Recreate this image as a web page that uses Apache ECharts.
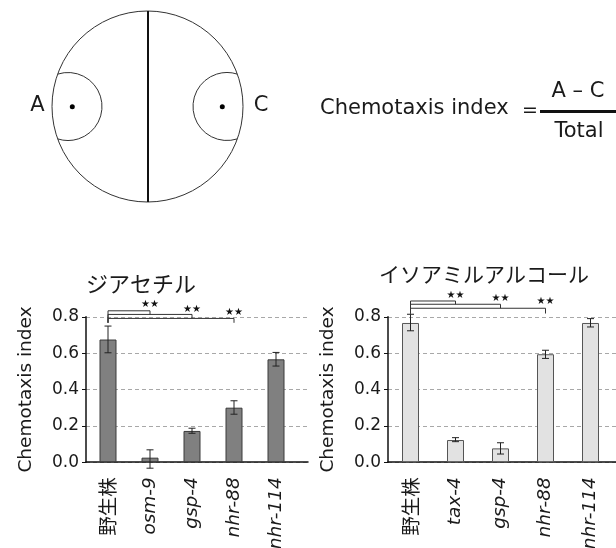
<!DOCTYPE html>
<html><head><meta charset="utf-8">
<script src="https://cdn.jsdelivr.net/npm/echarts@6/dist/echarts.min.js"></script>
<style>html,body{margin:0;padding:0;background:#fff}#c{width:616px;height:548px}</style>
</head><body><div id="c"></div>
<script>
// ---------- data ----------
const categoriesL = ['野生株', 'osm-9', 'gsp-4', 'nhr-88', 'nhr-114'];
const valuesL   = [0.675, 0.025, 0.172, 0.300, 0.566];
const errLowL   = [0.602, -0.033, 0.159, 0.264, 0.529];
const errHighL  = [0.749, 0.068, 0.187, 0.338, 0.604];
const titleL = 'ジアセチル';

const categoriesR = ['野生株', 'tax-4', 'gsp-4', 'nhr-88', 'nhr-114'];
const valuesR   = [0.766, 0.122, 0.076, 0.594, 0.766];
const errLowR   = [0.723, 0.113, 0.045, 0.571, 0.744];
const errHighR  = [0.814, 0.135, 0.107, 0.616, 0.790];
const titleR = 'イソアミルアルコール';

const sigTargets = [1, 2, 3];      // each compared with 野生株 (index 0)
const sigLabel = '★★';
const yTickLabels = ['0.0', '0.2', '0.4', '0.6', '0.8'];
const yAxisName = 'Chemotaxis index';
const formulaName = 'Chemotaxis index';
const formulaNum = 'A – C';
const formulaDen = 'Total';

// ---------- annotation layout (value units) ----------
const bracketL = {levels: [0.833, 0.813, 0.791], drops: [0.813, 0.791, 0.767], stars: [0.870, 0.840, 0.824], bottom: 0.767};
const bracketR = {levels: [0.887, 0.869, 0.847], drops: [0.869, 0.847, 0.818], stars: [0.919, 0.901, 0.887], bottom: 0.818};

const LAT = '"DejaVu Sans", sans-serif';
const CJK = '"Noto Sans CJK JP", sans-serif';
const INK = '#1a1a1a';

function errItem(params, api) {
  const x = api.value(0);
  const lo = api.coord([x, api.value(1)]);
  const hi = api.coord([x, api.value(2)]);
  const w = 3.5;
  const st = {stroke: '#222', lineWidth: 1};
  return {type: 'group', children: [
    {type: 'line', shape: {x1: lo[0], y1: lo[1], x2: hi[0], y2: hi[1]}, style: st},
    {type: 'line', shape: {x1: lo[0] - w, y1: lo[1], x2: lo[0] + w, y2: lo[1]}, style: st},
    {type: 'line', shape: {x1: hi[0] - w, y1: hi[1], x2: hi[0] + w, y2: hi[1]}, style: st}
  ]};
}
function bracketItem(params, api) {
  const j = api.value(0);
  const b = [api.coord([0, api.value(4)]), api.coord([0, api.value(1)]), api.coord([j, api.value(1)]), api.coord([j, api.value(2)])];
  const s = api.coord([j, api.value(3)]);
  return {type: 'group', children: [
    {type: 'polyline', shape: {points: b}, style: {stroke: '#333', lineWidth: 1, fill: 'none'}},
    {type: 'text', style: {text: sigLabel, x: s[0], y: s[1], align: 'center', verticalAlign: 'middle', textAlign: 'center', textVerticalAlign: 'middle', font: '10px ' + LAT, fill: '#111'}}
  ]};
}
function bracketData(cfg) {
  return sigTargets.map((t, k) => [t, cfg.levels[k], cfg.drops[k], cfg.stars[k], cfg.bottom]);
}
function xLabelFmt(v) { return v === '野生株' ? '{n|' + v + '}' : '{i|' + v + '}'; }

const TOP = 316.8, H = 145.4;

function frameY(name) {
  return {
    type: 'value', min: 0, max: 0.8, interval: 0.2,
    axisLine: {show: true, lineStyle: {color: '#111', width: 1.5}},
    axisTick: {show: true, length: 4, lineStyle: {color: '#111', width: 1}},
    axisLabel: {fontFamily: LAT, fontSize: 17, color: INK, margin: 7,
      formatter: v => yTickLabels[Math.round(v / 0.2)]},
    splitLine: {show: true, lineStyle: {color: '#a8a8a8', type: [4, 3], width: 1}},
    name: name, nameLocation: 'middle', nameGap: 50, nameMoveOverlap: false,
    nameTextStyle: {fontFamily: LAT, fontSize: 18.5, color: INK}
  };
}
function frameX() {
  return {type: 'value', min: 0, max: 1, axisLine: {show: true, onZero: false, lineStyle: {color: '#111', width: 1.5}},
    axisTick: {show: false}, axisLabel: {show: false}, splitLine: {show: false}};
}
function barX(cats) {
  return {type: 'category', data: cats, axisLine: {show: false}, axisTick: {show: false},
    axisLabel: {rotate: 90, margin: 15, interval: 0, formatter: xLabelFmt,
      rich: {n: {fontFamily: CJK, fontSize: 19.5, color: INK}, i: {fontFamily: LAT, fontStyle: 'italic', fontSize: 18.5, color: INK}}}};
}
function barY() { return {type: 'value', min: 0, max: 0.8, show: false}; }

const option = {
  backgroundColor: '#fff',
  animation: false,
  title: [
    {text: titleL, left: 136, top: 268, textAlign: 'center', textStyle: {fontFamily: CJK, fontSize: 22, fontWeight: 'normal', color: INK}},
    {text: titleR, left: 479, top: 259, textAlign: 'center', textStyle: {fontFamily: CJK, fontSize: 21, fontWeight: 'normal', color: INK}}
  ],
  grid: [
    {left: 86, top: TOP, width: 222, height: H, outerBoundsMode: 'none'},
    {left: 87, top: TOP, width: 210, height: H, outerBoundsMode: 'none'},
    {left: 388, top: TOP, width: 228, height: H, outerBoundsMode: 'none'},
    {left: 388, top: TOP, width: 225, height: H, outerBoundsMode: 'none'}
  ],
  xAxis: [
    Object.assign(frameX(), {gridIndex: 0}),
    Object.assign(barX(categoriesL), {gridIndex: 1}),
    Object.assign(frameX(), {gridIndex: 2}),
    Object.assign(barX(categoriesR), {gridIndex: 3})
  ],
  yAxis: [
    Object.assign(frameY(yAxisName), {gridIndex: 0}),
    Object.assign(barY(), {gridIndex: 1}),
    Object.assign(frameY(yAxisName), {gridIndex: 2}),
    Object.assign(barY(), {gridIndex: 3})
  ],
  series: [
    {type: 'bar', xAxisIndex: 1, yAxisIndex: 1, data: valuesL, barWidth: 17, z: 3,
      itemStyle: {color: '#808080', borderColor: '#3a3a3a', borderWidth: 1}},
    {type: 'custom', xAxisIndex: 1, yAxisIndex: 1, z: 4, clip: false, renderItem: errItem,
      encode: {x: 0, y: [1, 2]}, data: categoriesL.map((c, i) => [i, errLowL[i], errHighL[i]])},
    {type: 'custom', xAxisIndex: 1, yAxisIndex: 1, z: 4, clip: false, renderItem: bracketItem,
      encode: {x: 0, y: 1}, data: bracketData(bracketL)},
    {type: 'bar', xAxisIndex: 3, yAxisIndex: 3, data: valuesR, barWidth: 17, z: 3,
      itemStyle: {color: '#e2e2e2', borderColor: '#555', borderWidth: 1}},
    {type: 'custom', xAxisIndex: 3, yAxisIndex: 3, z: 4, clip: false, renderItem: errItem,
      encode: {x: 0, y: [1, 2]}, data: categoriesR.map((c, i) => [i, errLowR[i], errHighR[i]])},
    {type: 'custom', xAxisIndex: 3, yAxisIndex: 3, z: 4, clip: false, renderItem: bracketItem,
      encode: {x: 0, y: 1}, data: bracketData(bracketR)}
  ],
  graphic: [
    {type: 'circle', shape: {cx: 147.5, cy: 106.5, r: 95.5}, style: {fill: 'none', stroke: '#333', lineWidth: 1}},
    {type: 'line', shape: {x1: 148, y1: 11, x2: 148, y2: 202}, style: {stroke: '#111', lineWidth: 2}},
    {type: 'arc', shape: {cx: 68, cy: 106.5, r: 34, startAngle: -1.88, endAngle: 1.88, clockwise: true}, style: {fill: 'none', stroke: '#333', lineWidth: 1}},
    {type: 'arc', shape: {cx: 227, cy: 106.5, r: 34, startAngle: 1.262, endAngle: 5.021, clockwise: true}, style: {fill: 'none', stroke: '#333', lineWidth: 1}},
    {type: 'circle', shape: {cx: 72.3, cy: 106.7, r: 2.5}, style: {fill: '#000'}},
    {type: 'circle', shape: {cx: 222.3, cy: 106.7, r: 2.5}, style: {fill: '#000'}},
    {type: 'text', style: {text: 'A', x: 37.5, y: 106, align: 'center', verticalAlign: 'middle', textAlign: 'center', textVerticalAlign: 'middle', font: '21px ' + LAT, fill: INK}},
    {type: 'text', style: {text: 'C', x: 261, y: 106, align: 'center', verticalAlign: 'middle', textAlign: 'center', textVerticalAlign: 'middle', font: '21px ' + LAT, fill: INK}},
    {type: 'text', style: {text: formulaName, x: 320, y: 109, align: 'left', verticalAlign: 'middle', textAlign: 'left', textVerticalAlign: 'middle', font: '21px ' + LAT, fill: INK}},
    {type: 'text', style: {text: '=', x: 530, y: 111, align: 'center', verticalAlign: 'middle', textAlign: 'center', textVerticalAlign: 'middle', font: '19px ' + LAT, fill: INK}},
    {type: 'rect', shape: {x: 540, y: 110, width: 76, height: 3}, style: {fill: '#111'}},
    {type: 'text', style: {text: formulaNum, x: 578, y: 91.5, align: 'center', verticalAlign: 'middle', textAlign: 'center', textVerticalAlign: 'middle', font: '21px ' + LAT, fill: INK}},
    {type: 'text', style: {text: formulaDen, x: 579, y: 131.5, align: 'center', verticalAlign: 'middle', textAlign: 'center', textVerticalAlign: 'middle', font: '21px ' + LAT, fill: INK}}
  ]
};
const chart = echarts.init(document.getElementById('c'), null, {renderer: 'canvas'});
chart.setOption(option);
</script></body></html>
